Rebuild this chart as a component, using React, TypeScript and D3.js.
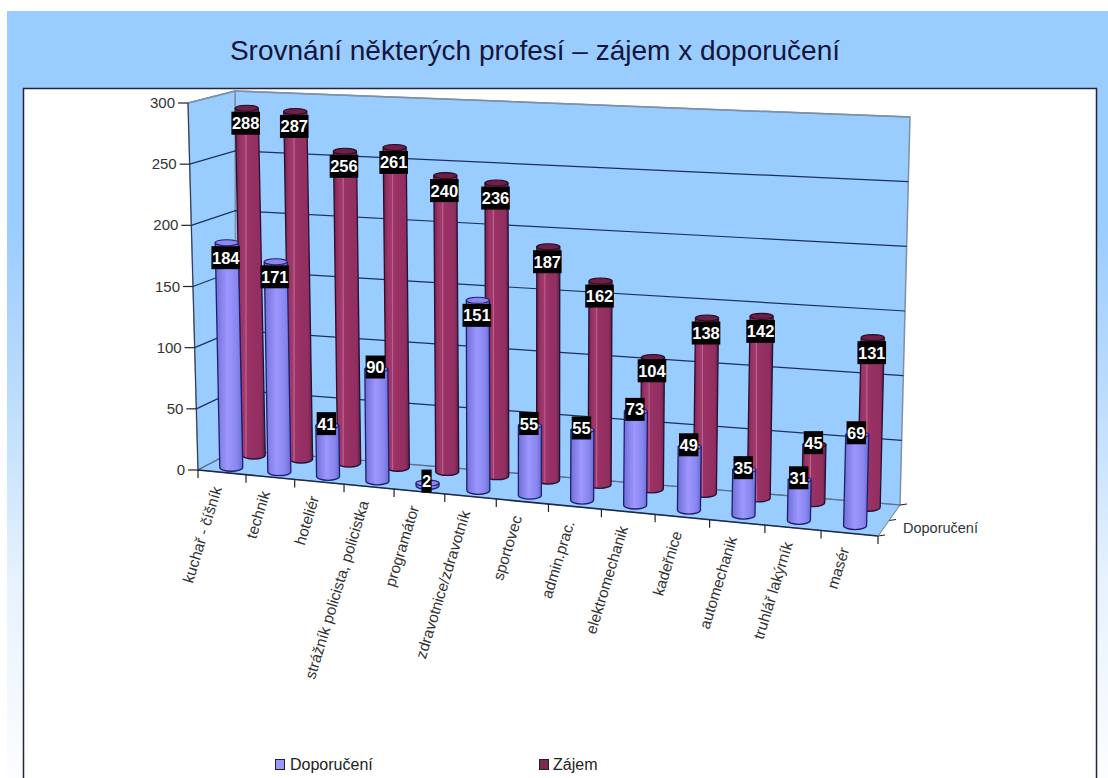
import React from "react";
import * as d3 from "d3";

const categories = ["kuchař - číšník", "technik", "hoteliér", "strážník policista, policistka", "programátor", "zdravotnice/zdravotník", "sportovec", "admin.prac.", "elektromechanik", "kadeřnice", "automechanik", "truhlář lakýrník", "masér"];
const doporuceni = [184, 171, 41, 90, 2, 151, 55, 55, 73, 49, 35, 31, 69];
const zajem = [288, 287, 256, 261, 240, 236, 187, 162, 104, 138, 142, 45, 131];
const valueTicks = [0, 50, 100, 150, 200, 250, 300];
const seriesNames = ["Doporučení", "Zájem"];
const title = "Srovnání některých profesí – zájem x doporučení";

const FONT = "'Liberation Sans', Arial, sans-serif";
const lerp = (a: number, b: number, t: number) => a + (b - a) * t;

// perspective frame of the 3-D plot
const frontX = d3.scaleLinear().domain([0, 1]).range([198, 878]);
const frontY = d3.scaleLinear().domain([0, 1]).range([470, 536]);
const backX = d3.scaleLinear().domain([0, 1]).range([236, 900]);
const backY = d3.scaleLinear().domain([0, 1]).range([450, 505]);
const frontH = d3.scaleLinear().domain([0, 1]).range([367, 399]);
const backH = d3.scaleLinear().domain([0, 1]).range([359, 388]);
const frontLean = d3.scaleLinear().domain([0, 1]).range([-10, 10]);
const backLean = d3.scaleLinear().domain([0, 1]).range([-1, 10]);
const barLean = d3.scaleLinear().domain([0, 1]).range([-0.022, 0.026]);
const valueScale = d3.scaleLinear().domain([0, 300]).range([0, 1]);
const band = d3.scaleBand<number>().domain(d3.range(categories.length)).range([0, 1]);
const warp = (u: number) => u / (u + (1 - u) * 1.097);

const floorPt = (u: number, v: number): [number, number] => [
  lerp(frontX(u), backX(u), v),
  lerp(frontY(u), backY(u), v),
];
const wallPt = (u: number, v: number, val: number): [number, number] => {
  const [x, y] = floorPt(u, v);
  const f = valueScale(val);
  return [x + lerp(frontLean(u), backLean(u), v) * f, y - lerp(frontH(u), backH(u), v) * f];
};
const line = d3.line();
const poly = (pts: [number, number][]) => line(pts) + "Z";

const labelShift = d3.scaleLinear().domain([95, 105]).range([-2, 15]).clamp(true);

function Bar({ i, v, val, grad, top, stroke, topStroke }: any) {
  const u = warp((band(i) as number) + band.bandwidth() / 2);
  const [bx, by] = floorPt(u, v);
  const h = lerp(frontH(u), backH(u), v) * valueScale(val);
  const tx = bx + barLean(u) * h;
  const ty = by - h;
  const w = 11.5;
  const ry = 4;
  const d = `M${bx - w},${by} A${w},${ry} 0 0 0 ${bx + w},${by} L${tx + w},${ty} L${tx - w},${ty} Z`;
  return (
    <g>
      <path d={d} fill={`url(#${grad})`} stroke={stroke} strokeWidth={1.3} />
      <ellipse cx={tx} cy={ty} rx={w} ry={ry - 1} fill={top} stroke={topStroke} strokeWidth={1.1} />
    </g>
  );
}

function Label({ i, v, val }: any) {
  const u = warp((band(i) as number) + band.bandwidth() / 2);
  const [bx, by] = floorPt(u, v);
  const h = lerp(frontH(u), backH(u), v) * valueScale(val);
  const tx = bx + barLean(u) * h - 1;
  const cy = by - h + labelShift(val);
  const s = String(val);
  const w = s.length * 9.2 + 1;
  return (
    <g>
      <rect x={tx - w / 2} y={cy - 11.5} width={w} height={23} fill="#000" />
      <text x={tx} y={cy + 6} textAnchor="middle" fontFamily={FONT} fontWeight="bold" fontSize={16.5} fill="#fff">{s}</text>
    </g>
  );
}

const vD = 0.25;
const vZ = 0.85;

export default function App() {
  const wallStroke = "#7e90a8";
  const gridStroke = "#1d2f5c";
  return (
    <svg width={1108} height={778} style={{ position: "fixed", left: 0, top: 0, display: "block", background: "#fff" }}>
      <defs>
        <linearGradient id="page" x1="0" y1="0" x2="0" y2="1">
          <stop offset="0.27" stopColor="#99ccff" />
          <stop offset="0.5" stopColor="#bcdcfc" />
          <stop offset="0.74" stopColor="#e6f2fe" />
          <stop offset="1" stopColor="#fcfdff" />
        </linearGradient>
        <linearGradient id="gD" x1="0" y1="0" x2="1" y2="0">
          <stop offset="0" stopColor="#6f6fd6" />
          <stop offset="0.45" stopColor="#9d97ff" />
          <stop offset="0.8" stopColor="#8686ee" />
          <stop offset="1" stopColor="#6a6ad0" />
        </linearGradient>
        <linearGradient id="gZ" x1="0" y1="0" x2="1" y2="0">
          <stop offset="0" stopColor="#6a2048" />
          <stop offset="0.15" stopColor="#973262" />
          <stop offset="0.32" stopColor="#a23a70" />
          <stop offset="0.36" stopColor="#c0658f" />
          <stop offset="0.4" stopColor="#9a3265" />
          <stop offset="0.85" stopColor="#922e60" />
          <stop offset="1" stopColor="#5e2044" />
        </linearGradient>
      </defs>

      <rect x={7} y={11} width={1101} height={767} fill="url(#page)" />
      <rect x={23.5} y={88.5} width={1073} height={700} fill="#fff" stroke="#23233f" strokeWidth={1.5} />
      <text x={535} y={60} textAnchor="middle" fontFamily={FONT} fontSize={28} fill="#14143c">{title}</text>

      {/* walls */}
      <path d={poly([wallPt(0, 1, 0), wallPt(1, 1, 0), wallPt(1, 1, 300), wallPt(0, 1, 300)])} fill="#99ccff" stroke={wallStroke} strokeWidth={1.5} />
      <path d={poly([wallPt(0, 0, 0), wallPt(0, 1, 0), wallPt(0, 1, 300), wallPt(0, 0, 300)])} fill="#99ccff" stroke={wallStroke} strokeWidth={1.5} />
      <path d={poly([floorPt(0, 0), floorPt(1, 0), floorPt(1, 1), floorPt(0, 1)])} fill="#99ccff" stroke={wallStroke} strokeWidth={1} />

      {/* gridlines */}
      {valueTicks.map((t) => (
        <path key={t} d={line([wallPt(0, 0, t), wallPt(0, 1, t), wallPt(1, 1, t)]) as string} fill="none" stroke={t === 300 ? wallStroke : t === 0 ? "#5a6e90" : gridStroke} strokeWidth={t === 300 ? 1.5 : 1.2} />
      ))}

      {/* value axis */}
      <path d={line([wallPt(0, 0, 0), wallPt(0, 0, 300)]) as string} stroke="#2c3a58" strokeWidth={1} fill="none" />
      {valueTicks.map((t) => {
        const [x, y] = wallPt(0, 0, t);
        return (
          <g key={t}>
            <line x1={x - 10} x2={x} y1={y} y2={y} stroke="#222" strokeWidth={1.2} />
            <text x={x - 13} y={y + 5} textAnchor="end" fontFamily={FONT} fontSize={15} fill="#333">{t}</text>
          </g>
        );
      })}

      {/* front edge, category ticks and labels */}
      <path d={line([floorPt(0, 0), floorPt(1, 0)]) as string} stroke="#1b2a50" strokeWidth={1.6} fill="none" />
      {d3.range(categories.length + 1).map((i) => {
        const [x, y] = floorPt(warp(i / categories.length), 0);
        return <line key={i} x1={x} x2={x} y1={y} y2={y + 8} stroke="#222" strokeWidth={1.2} />;
      })}
      {categories.map((c, i) => {
        const [x, y] = floorPt(warp((band(i) as number) + band.bandwidth() / 2), 0);
        return (
          <text key={c} transform={`translate(${x},${y + 16}) rotate(-73)`} textAnchor="end" fontFamily={FONT} fontSize={15.4} fill="#333">{c}</text>
        );
      })}

      {/* series axis */}
      {[0, 0.5, 1].map((v) => {
        const [x, y] = floorPt(1, v);
        return <line key={v} x1={x} x2={x + 7} y1={y} y2={y - 1} stroke="#222" strokeWidth={1.2} />;
      })}
      <path d={line([floorPt(1, 0), floorPt(1, 1)]) as string} stroke="#7e90a8" strokeWidth={1} fill="none" />
      <text x={903} y={533} fontFamily={FONT} fontSize={14.5} fill="#333">{seriesNames[0]}</text>

      {/* bars, rear series first */}
      {zajem.map((val, i) => (
        <Bar key={i} i={i} v={vZ} val={val} grad="gZ" top="#6d1f48" stroke="#2a1030" topStroke="#2a0c24" />
      ))}
      {doporuceni.map((val, i) => (
        <Bar key={i} i={i} v={vD} val={val} grad="gD" top="#8d88ec" stroke="#1e1e6e" topStroke="#23237a" />
      ))}
      {zajem.map((val, i) => <Label key={i} i={i} v={vZ} val={val} />)}
      {doporuceni.map((val, i) => <Label key={i} i={i} v={vD} val={val} />)}

      {/* legend */}
      <rect x={275.5} y={759.5} width={9} height={10} fill="#9999ff" stroke="#222" strokeWidth={1} />
      <text x={290} y={770} fontFamily={FONT} fontSize={16} fill="#222">{seriesNames[0]}</text>
      <rect x={539.5} y={759.5} width={9} height={10} fill="#7d2a50" stroke="#222" strokeWidth={1} />
      <text x={553} y={770} fontFamily={FONT} fontSize={16} fill="#222">{seriesNames[1]}</text>
    </svg>
  );
}
